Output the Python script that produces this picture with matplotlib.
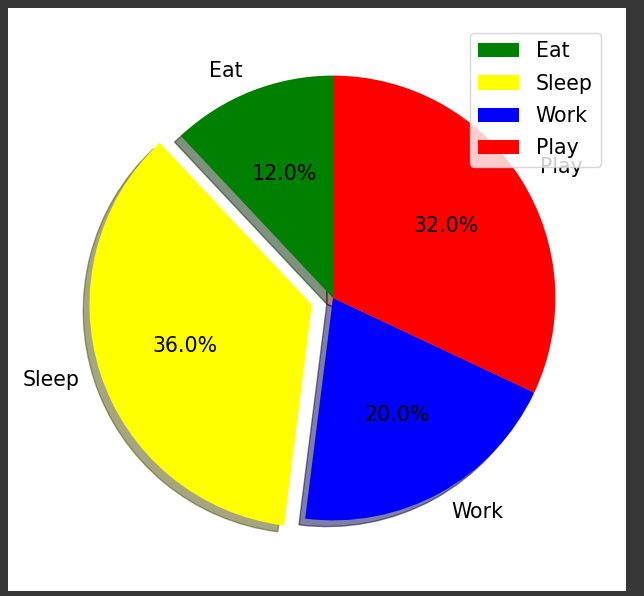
import matplotlib
matplotlib.use("Agg")
import matplotlib.pyplot as plt
from matplotlib.patches import Rectangle

activities = ["Eat", "Sleep", "Work", "Play"]
shares = [12, 36, 20, 32]
colors = ["green", "yellow", "blue", "red"]
explode = [0, 0.1, 0, 0]

plt.rcParams["font.size"] = 14.8

W, H = 644, 596
fig = plt.figure(figsize=(W / 100, H / 100), dpi=100, facecolor="#373737")

# white canvas inside the dark frame of the screenshot
fig.patches.append(
    Rectangle((8 / W, 5 / H), 618 / W, 583 / H, transform=fig.transFigure,
              facecolor="white", edgecolor="none", zorder=-10)
)

cx, cy, side = 333, 298, 556
ax = fig.add_axes([(cx - side / 2) / W, (H - cy - side / 2) / H, side / W, side / H])

ax.pie(
    shares,
    labels=activities,
    colors=colors,
    explode=explode,
    startangle=90,
    shadow=True,
    autopct="%1.1f%%",
)
ax.legend(loc="upper right", labelspacing=0.6, bbox_to_anchor=(1.0, 0.995))

fig.savefig("out.png", dpi=100, facecolor=fig.get_facecolor())
